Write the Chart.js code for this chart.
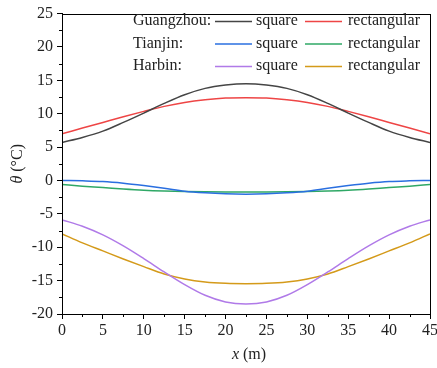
<!DOCTYPE html>
<html>
<head>
<meta charset="utf-8">
<script src="https://cdn.jsdelivr.net/npm/chart.js@4.4.1/dist/chart.umd.min.js"></script>
<style>
  html, body { margin: 0; padding: 0; background: #fff; }
  #wrap { width: 437px; height: 368px; position: relative; }
</style>
</head>
<body>
<div id="wrap"><canvas id="c" width="437" height="368"></canvas></div>
<script>
// ---- data ----
const xValues = [0, 2.5, 5, 7.5, 10, 12.5, 15, 17.5, 20, 22.5, 25, 27.5, 30, 32.5, 35, 37.5, 40, 42.5, 45];
const cities = ['Guangzhou:', 'Tianjin:', 'Harbin:'];
const shapes = ['square', 'rectangular'];
const guangzhouSquare = [5.7, 6.45, 7.4, 8.7, 10.1, 11.55, 12.85, 13.8, 14.3, 14.5, 14.3, 13.8, 12.85, 11.55, 10.1, 8.7, 7.4, 6.45, 5.7];
const guangzhouRect   = [7.0, 7.85, 8.7, 9.55, 10.35, 11.1, 11.7, 12.1, 12.35, 12.4, 12.35, 12.1, 11.7, 11.1, 10.35, 9.55, 8.7, 7.85, 7.0];
const tianjinSquare   = [0.0, -0.05, -0.15, -0.4, -0.75, -1.15, -1.6, -1.85, -2.0, -2.05, -2.0, -1.85, -1.6, -1.15, -0.75, -0.4, -0.15, -0.05, 0.0];
const tianjinRect     = [-0.6, -0.85, -1.05, -1.27, -1.45, -1.57, -1.65, -1.7, -1.72, -1.72, -1.72, -1.7, -1.65, -1.57, -1.45, -1.27, -1.05, -0.85, -0.6];
const harbinSquare    = [-5.9, -6.85, -8.15, -9.8, -11.7, -13.7, -15.6, -17.2, -18.2, -18.5, -18.2, -17.2, -15.6, -13.7, -11.7, -9.8, -8.15, -6.85, -5.9];
const harbinRect      = [-8.0, -9.35, -10.55, -11.75, -12.9, -14.0, -14.75, -15.2, -15.4, -15.45, -15.4, -15.2, -14.75, -14.0, -12.9, -11.75, -10.55, -9.35, -8.0];
const xTicks = [0, 5, 10, 15, 20, 25, 30, 35, 40, 45];
const yTicks = [-20, -15, -10, -5, 0, 5, 10, 15, 20, 25];

const seriesValues = [guangzhouSquare, guangzhouRect, tianjinSquare, tianjinRect, harbinSquare, harbinRect];
const colors = ['#454545', '#ee4545', '#2a6fe0', '#2fa866', '#b07ae8', '#d49a1a'];

const FONT = "'Liberation Serif', 'Times New Roman', serif";

const datasets = seriesValues.map((vals, i) => ({
  label: shapes[i % 2],
  data: vals.map((v, j) => ({ x: xValues[j], y: v })),
  borderColor: colors[i],
  backgroundColor: colors[i],
  borderWidth: 1.5,
  pointRadius: 0,
  cubicInterpolationMode: 'monotone',
  fill: false
}));

const decorPlugin = {
  id: 'decor',
  afterDraw(chart) {
    const ctx = chart.ctx;
    const a = chart.chartArea;
    const xs = chart.scales.x, ys = chart.scales.y;
    ctx.save();
    // frame
    ctx.strokeStyle = '#000';
    ctx.lineWidth = 1;
    ctx.strokeRect(Math.round(a.left) + 0.5, Math.round(a.top) + 0.5, Math.round(a.right - a.left), Math.round(a.bottom - a.top));
    // minor ticks
    ctx.beginPath();
    for (let i = 0; i < xTicks.length - 1; i++) {
      const px = Math.round(xs.getPixelForValue((xTicks[i] + xTicks[i + 1]) / 2)) + 0.5;
      ctx.moveTo(px, a.bottom); ctx.lineTo(px, a.bottom + 3);
    }
    for (let i = 0; i < yTicks.length - 1; i++) {
      const py = Math.round(ys.getPixelForValue((yTicks[i] + yTicks[i + 1]) / 2)) + 0.5;
      ctx.moveTo(a.left, py); ctx.lineTo(a.left - 3, py);
    }
    ctx.stroke();

    // axis titles
    ctx.fillStyle = '#222';
    ctx.textBaseline = 'middle';
    const fi = 'italic 16px ' + FONT, fr = '16px ' + FONT;
    ctx.font = fi; const w1 = ctx.measureText('x').width;
    ctx.font = fr; const w2 = ctx.measureText(' (m)').width;
    let cx = (a.left + a.right) / 2 + 3 - (w1 + w2) / 2;
    ctx.textAlign = 'left';
    ctx.font = fi; ctx.fillText('x', cx, 355);
    ctx.font = fr; ctx.fillText(' (m)', cx + w1, 355);
    ctx.save();
    ctx.translate(18, (a.top + a.bottom) / 2);
    ctx.rotate(-Math.PI / 2);
    ctx.font = fi; const t1 = ctx.measureText('θ').width;
    ctx.font = fr; const t2 = ctx.measureText(' (°C)').width;
    let sx = -(t1 + t2) / 2;
    ctx.font = fi; ctx.fillText('θ', sx, 0);
    ctx.font = fr; ctx.fillText(' (°C)', sx + t1, 0);
    ctx.restore();

    // legend
    const rowY = [21, 43.5, 66];
    ctx.font = '16px ' + FONT;
    ctx.textAlign = 'left';
    for (let r = 0; r < cities.length; r++) {
      const y = rowY[r];
      ctx.fillStyle = '#222';
      ctx.fillText(cities[r], 133, y);
      ctx.fillText(chart.data.datasets[2 * r].label, 256, y);
      ctx.fillText(chart.data.datasets[2 * r + 1].label, 348, y);
      ctx.lineWidth = 1.5;
      ctx.strokeStyle = chart.data.datasets[2 * r].borderColor;
      ctx.beginPath(); ctx.moveTo(215, y + 0.5); ctx.lineTo(252, y + 0.5); ctx.stroke();
      ctx.strokeStyle = chart.data.datasets[2 * r + 1].borderColor;
      ctx.beginPath(); ctx.moveTo(305, y + 0.5); ctx.lineTo(342, y + 0.5); ctx.stroke();
    }
    ctx.restore();
  }
};

new Chart(document.getElementById('c'), {
  type: 'line',
  data: { datasets },
  options: {
    responsive: false,
    animation: false,
    devicePixelRatio: 1,
    layout: { padding: { top: 12, right: 7, left: 0, bottom: 0 } },
    plugins: { legend: { display: false }, tooltip: { enabled: false } },
    scales: {
      x: {
        type: 'linear', min: 0, max: 45,
        afterBuildTicks: (s) => { s.ticks = xTicks.map(v => ({ value: v })); },
        afterFit: (s) => { s.height = 54; s.paddingRight = 0; s.paddingLeft = 0; },
        ticks: { color: '#222', font: { family: FONT, size: 16 }, padding: 2, maxRotation: 0 },
        grid: { display: true, drawOnChartArea: false, drawTicks: true, tickLength: 5, tickColor: '#000', tickWidth: 1 },
        border: { display: true, color: '#000', width: 1 }
      },
      y: {
        type: 'linear', min: -20, max: 25,
        afterBuildTicks: (s) => { s.ticks = yTicks.map(v => ({ value: v })); },
        afterFit: (s) => { s.width = 62; },
        ticks: { color: '#222', font: { family: FONT, size: 16 }, padding: 4 },
        grid: { display: true, drawOnChartArea: false, drawTicks: true, tickLength: 5, tickColor: '#000', tickWidth: 1 },
        border: { display: true, color: '#000', width: 1 }
      }
    }
  },
  plugins: [decorPlugin]
});
</script>
</body>
</html>
